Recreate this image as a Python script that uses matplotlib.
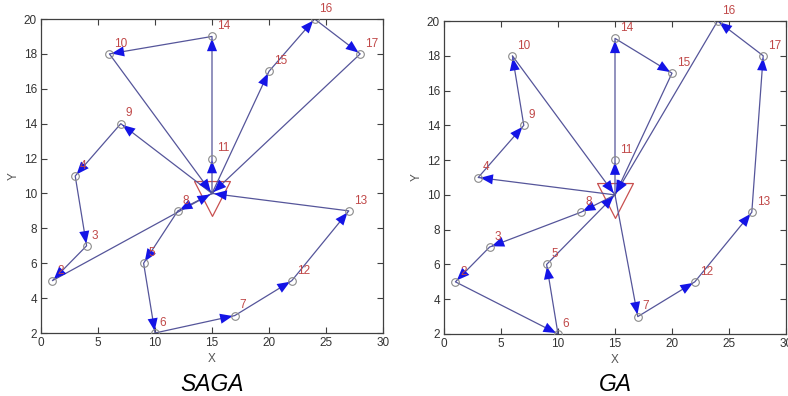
import matplotlib
matplotlib.use("Agg")
import matplotlib.pyplot as plt
from matplotlib.path import Path

# Node coordinates (node 1 = depot)
node_ids = [1, 2, 3, 4, 5, 6, 7, 8, 9, 10, 11, 12, 13, 14, 15, 16, 17]
node_x = [15, 1, 4, 3, 9, 10, 17, 12, 7, 6, 15, 22, 27, 15, 20, 24, 28]
node_y = [10, 5, 7, 11, 6, 2, 3, 9, 14, 18, 12, 5, 9, 19, 17, 20, 18]

# Routes (lists of node ids)
saga_routes = [
    [1, 9, 4, 3, 2, 1],
    [1, 11, 14, 10, 1],
    [1, 15, 16, 17, 1],
    [1, 8, 5, 6, 7, 12, 13, 1],
]
ga_routes = [
    [1, 4, 9, 10, 1],
    [1, 11, 14, 15, 1],
    [1, 8, 3, 2, 6, 5, 1],
    [1, 7, 12, 13, 17, 16, 1],
]

titles = ["SAGA", "GA"]
x_ticks = [0, 5, 10, 15, 20, 25, 30]
y_ticks = [2, 4, 6, 8, 10, 12, 14, 16, 18, 20]

coords = {n: (x, y) for n, x, y in zip(node_ids, node_x, node_y)}

LINE_C = "#55559a"
HEAD_C = "#1414e6"
LABEL_C = "#c04848"
AX_C = "#404040"

# depot marker: downward triangle, off-centre like the original
depot_marker = Path([(-18, 12), (18, 12), (0, -23), (-18, 12)],
                    [Path.MOVETO, Path.LINETO, Path.LINETO, Path.CLOSEPOLY])

fig = plt.figure(figsize=(7.88, 3.96), dpi=100)
axes_pos = [[41 / 788, 1 - 333 / 396, 342 / 788, 314 / 396],
            [444 / 788, 1 - 334 / 396, 342 / 788, 313 / 396]]

for pos, routes, title in zip(axes_pos, [saga_routes, ga_routes], titles):
    ax = fig.add_axes(pos)
    ax.set_xlim(0, 30)
    ax.set_ylim(2, 20)
    ax.set_xticks(x_ticks)
    ax.set_yticks(y_ticks)
    ax.tick_params(direction="in", top=True, right=True, length=4,
                   width=0.8, colors=AX_C, labelsize=8.5, pad=3)
    for lab in ax.get_xticklabels() + ax.get_yticklabels():
        lab.set_color("#333333")
        lab.set_family("Liberation Sans")
    for s in ax.spines.values():
        s.set_color(AX_C)
        s.set_linewidth(0.9)
    ax.set_xlabel("X", color="#555555", fontsize=8.5, labelpad=3,
                  family="Liberation Sans")
    ax.set_ylabel("Y", color="#555555", fontsize=8.5, labelpad=3,
                  family="Liberation Sans")

    # route lines and arrowheads
    for r in routes:
        xs = [coords[n][0] for n in r]
        ys = [coords[n][1] for n in r]
        ax.plot(xs, ys, color=LINE_C, lw=0.9, zorder=2)
        for a, b in zip(r[:-1], r[1:]):
            ax.annotate("", xy=coords[b], xytext=coords[a],
                        arrowprops=dict(arrowstyle="-|>,head_length=0.7,head_width=0.28",
                                        mutation_scale=13, lw=0, fc=HEAD_C,
                                        ec=HEAD_C, shrinkA=0, shrinkB=1.5),
                        zorder=3)

    # nodes
    cx = [coords[n][0] for n in node_ids[1:]]
    cy = [coords[n][1] for n in node_ids[1:]]
    ax.plot(cx, cy, "o", ms=5.5, mfc="none", mec="#8a8a8a", mew=0.8, zorder=4)
    for n in node_ids[1:]:
        ax.annotate(str(n), xy=coords[n], xytext=(3.5, 3), textcoords="offset points",
                    ha="left", va="bottom", color=LABEL_C, fontsize=8.5,
                    family="Liberation Sans", zorder=5)

    # depot
    ax.plot([coords[1][0]], [coords[1][1]], marker=depot_marker, ms=33,
            mfc="none", mec="#c85050", mew=0.9, zorder=1, linestyle="none")

    cx_fig = pos[0] + pos[2] / 2
    fig.text(cx_fig, 1 - 391 / 396, title, ha="center", va="baseline",
             fontsize=16.5, style="italic", family="Liberation Sans", color="black")

fig.savefig("out.png", dpi=100)
